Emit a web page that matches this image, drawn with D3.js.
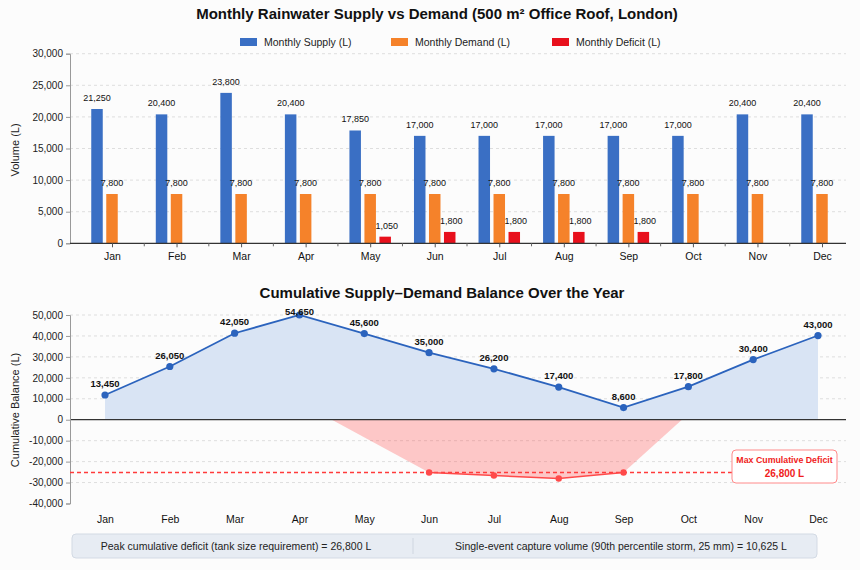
<!DOCTYPE html>
<html>
<head>
<meta charset="utf-8">
<script src="https://cdn.jsdelivr.net/npm/d3@7"></script>
<style>
  body { margin: 0; background: #fcfcfc; }
  text { font-family: "Liberation Sans", Arial, sans-serif; }
</style>
</head>
<body>
<div id="chart"></div>
<script>
var months = ["Jan", "Feb", "Mar", "Apr", "May", "Jun", "Jul", "Aug", "Sep", "Oct", "Nov", "Dec"];
var supply = [21250, 20400, 23800, 20400, 17850, 17000, 17000, 17000, 17000, 17000, 20400, 20400];
var demand = [7800, 7800, 7800, 7800, 7800, 7800, 7800, 7800, 7800, 7800, 7800, 7800];
var deficit = [0, 0, 0, 0, 1050, 1800, 1800, 1800, 1800, 0, 0, 0];
var seriesNames = ["Monthly Supply (L)", "Monthly Demand (L)", "Monthly Deficit (L)"];

// cumulative balance: where the points sit, and what their labels say
var cumPlotted = [11800, 25400, 41300, 50000, 41150, 32000, 24300, 15600, 5800, 15800, 28700, 40200];
var cumLabels = [13450, 26050, 42050, 54650, 45600, 35000, 26200, 17400, 8600, 17800, 30400, 43000];
// running deficit (month index, value); the 0 ends are where the shaded area meets zero
var deficitMonths = [5, 6, 7, 8];
var deficitValues = [-25200, -26650, -28050, -25200];
var deficitFillIdx = [3.5, 5, 6, 7, 8, 8.9];
var deficitFillVal = [0, -25200, -26650, -28050, -25200, 0];
var maxDeficitLine = -25200;
var maxDeficitText = "26,800 L";

var topTicks = [0, 5000, 10000, 15000, 20000, 25000, 30000];
var bottomTicks = [-40000, -30000, -20000, -10000, 0, 10000, 20000, 30000, 40000, 50000];
var footerNotes = [
    "Peak cumulative deficit (tank size requirement) = 26,800 L",
    "Single-event capture volume (90th percentile storm, 25 mm) = 10,625 L"
];

var width = 860;
var height = 570;
var colors = ["#3a6fc4", "#f5822a", "#e8101c"];
var fmt = d3.formatLocale({decimal: ".", thousands: ",", grouping: [3], currency: ["", ""], minus: "-"}).format(",");

var svg = d3.select("#chart").append("svg")
    .attr("width", width)
    .attr("height", height);

var axisLeft = 70, axisRight = 846;

// ---------- top chart ----------
var top0 = 53.7, top1 = 243.3;
var xTop = d3.scalePoint().domain(months).range([112, 822]);
var sub = d3.scaleBand().domain([0, 1, 2]).range([-20.75, 20.75]).paddingInner(0.233);
var yTop = d3.scaleLinear().domain([0, 30000]).range([top1, top0]);

svg.append("text")
    .attr("x", 437).attr("y", 19)
    .attr("text-anchor", "middle")
    .style("font-size", "15px").style("font-weight", "bold").style("fill", "#111")
    .text("Monthly Rainwater Supply vs Demand (500 m\u00b2 Office Roof, London)");

// legend
var legendX = [240, 391, 552];
seriesNames.forEach(function(name, i) {
    svg.append("rect")
        .attr("x", legendX[i]).attr("y", 38)
        .attr("width", 17).attr("height", 8)
        .attr("fill", colors[i]);
    svg.append("text")
        .attr("x", legendX[i] + 24).attr("y", 46)
        .style("font-size", "10.5px").style("fill", "#222")
        .text(name);
});

// grid
svg.append("g").selectAll("line")
    .data(topTicks.filter(function(d) { return d > 0; }))
    .enter().append("line")
        .attr("x1", axisLeft).attr("x2", axisRight)
        .attr("y1", function(d) { return yTop(d); })
        .attr("y2", function(d) { return yTop(d); })
        .attr("stroke", "#dedede").attr("stroke-dasharray", "3,3");

var yAxisTop = svg.append("g")
    .attr("transform", "translate(" + axisLeft + ",0)")
    .call(d3.axisLeft(yTop).tickValues(topTicks).tickFormat(fmt).tickSize(4));
yAxisTop.select(".domain").attr("stroke", "#999");
yAxisTop.selectAll(".tick line").attr("stroke", "#999");
yAxisTop.selectAll("text").style("font-size", "10px").style("fill", "#222")
    .style("font-family", "Liberation Sans, Arial, sans-serif");

svg.append("text")
    .attr("transform", "translate(19," + 150 + ") rotate(-90)")
    .attr("text-anchor", "middle")
    .style("font-size", "11px").style("fill", "#222")
    .text("Volume (L)");

var rows = months.map(function(m, i) {
    return {month: m, vals: [supply[i], demand[i], deficit[i]]};
});

var groups = svg.append("g").selectAll("g")
    .data(rows)
    .enter().append("g")
        .attr("transform", function(d) { return "translate(" + xTop(d.month) + ",0)"; });

groups.selectAll("rect")
    .data(function(d) { return d.vals.map(function(v, k) { return {k: k, v: v}; }); })
    .enter().append("rect")
        .filter(function(d) { return d.v > 0; })
        .attr("x", function(d) { return sub(d.k); })
        .attr("y", function(d) { return yTop(d.v); })
        .attr("width", sub.bandwidth())
        .attr("height", function(d) { return yTop(0) - yTop(d.v); })
        .attr("fill", function(d) { return colors[d.k]; });

groups.selectAll("text")
    .data(function(d) { return d.vals.map(function(v, k) { return {k: k, v: v}; }); })
    .enter().append("text")
        .filter(function(d) { return d.v > 0; })
        .attr("x", function(d) { return sub(d.k) + sub.bandwidth() / 2 + (d.k === 2 ? 1.5 : 0); })
        .attr("y", function(d) { return yTop(d.v) - 8; })
        .attr("text-anchor", "middle")
        .style("font-size", "9px").style("fill", "#111")
        .text(function(d) { return fmt(d.v); });

// x axis: ticks at month centres and small ones between months
var xAxisTop = svg.append("g").attr("transform", "translate(0," + top1 + ")");
xAxisTop.append("line")
    .attr("x1", axisLeft).attr("x2", axisRight)
    .attr("stroke", "#333").attr("stroke-width", 1.2);
var step = xTop.step();
xAxisTop.selectAll(".mid")
    .data(months.slice(1))
    .enter().append("line")
        .attr("x1", function(d) { return xTop(d) - step / 2; })
        .attr("x2", function(d) { return xTop(d) - step / 2; })
        .attr("y2", 3).attr("stroke", "#666");
xAxisTop.call(d3.axisBottom(xTop).tickSize(4).tickPadding(5));
xAxisTop.select(".domain").remove();
xAxisTop.selectAll(".tick line").attr("stroke", "#555");
xAxisTop.selectAll(".tick text").style("font-size", "10.5px").style("fill", "#111")
    .style("font-family", "Liberation Sans, Arial, sans-serif");

// ---------- bottom chart ----------
var xBot = d3.scaleLinear().domain([0, 11]).range([105, 818]);
var yBot = d3.scaleLinear().domain([-40000, 50000]).range([503.5, 315]);

svg.append("text")
    .attr("x", 442).attr("y", 298)
    .attr("text-anchor", "middle")
    .style("font-size", "15px").style("font-weight", "bold").style("fill", "#111")
    .text("Cumulative Supply\u2013Demand Balance Over the Year");

svg.append("g").selectAll("line")
    .data(bottomTicks.filter(function(d) { return d !== 0 && d > -40000; }))
    .enter().append("line")
        .attr("x1", axisLeft).attr("x2", axisRight)
        .attr("y1", function(d) { return yBot(d); })
        .attr("y2", function(d) { return yBot(d); })
        .attr("stroke", "#dedede").attr("stroke-dasharray", "3,3");

var idx = d3.range(months.length);

// positive balance area
svg.append("path")
    .datum(idx)
    .attr("fill", "#d9e4f4")
    .attr("d", d3.area()
        .x(function(i) { return xBot(i); })
        .y0(yBot(0))
        .y1(function(i) { return yBot(Math.max(0, cumPlotted[i])); }));

// deficit area
svg.append("path")
    .datum(d3.range(deficitFillIdx.length))
    .attr("fill", "#ff4d4d").attr("fill-opacity", 0.3)
    .attr("d", d3.area()
        .x(function(j) { return xBot(deficitFillIdx[j]); })
        .y0(yBot(0))
        .y1(function(j) { return yBot(deficitFillVal[j]); }));

// zero line
svg.append("line")
    .attr("x1", axisLeft).attr("x2", axisRight)
    .attr("y1", yBot(0)).attr("y2", yBot(0))
    .attr("stroke", "#333").attr("stroke-width", 1.3);

var yAxisBot = svg.append("g")
    .attr("transform", "translate(" + axisLeft + ",0)")
    .call(d3.axisLeft(yBot).tickValues(bottomTicks).tickFormat(fmt).tickSize(4));
yAxisBot.select(".domain").attr("stroke", "#999");
yAxisBot.selectAll(".tick line").attr("stroke", "#999");
yAxisBot.selectAll("text").style("font-size", "10px").style("fill", "#222")
    .style("font-family", "Liberation Sans, Arial, sans-serif");

svg.append("text")
    .attr("transform", "translate(19," + 410 + ") rotate(-90)")
    .attr("text-anchor", "middle")
    .style("font-size", "11px").style("fill", "#222")
    .text("Cumulative Balance (L)");

// max deficit dashed line
svg.append("line")
    .attr("x1", axisLeft).attr("x2", 732)
    .attr("y1", yBot(maxDeficitLine)).attr("y2", yBot(maxDeficitLine))
    .attr("stroke", "#ff3b3b").attr("stroke-width", 1.4).attr("stroke-dasharray", "4,3");

// cumulative line
svg.append("path")
    .datum(idx)
    .attr("fill", "none").attr("stroke", "#2b63bd").attr("stroke-width", 1.8)
    .attr("d", d3.line()
        .x(function(i) { return xBot(i); })
        .y(function(i) { return yBot(cumPlotted[i]); }));

svg.append("g").selectAll("circle")
    .data(idx)
    .enter().append("circle")
        .attr("cx", function(i) { return xBot(i); })
        .attr("cy", function(i) { return yBot(cumPlotted[i]); })
        .attr("r", 3.6)
        .attr("fill", "#2b63bd");

svg.append("g").selectAll("text")
    .data(idx)
    .enter().append("text")
        .attr("x", function(i) { return xBot(i); })
        .attr("y", function(i) { return Math.max(yBot(cumPlotted[i]) - 8, yBot(50000)); })
        .attr("text-anchor", "middle")
        .style("font-size", "9.5px").style("font-weight", "bold").style("fill", "#111")
        .text(function(i) { return fmt(cumLabels[i]); });

// deficit line
svg.append("path")
    .datum(d3.range(deficitMonths.length))
    .attr("fill", "none").attr("stroke", "#ff4a4a").attr("stroke-width", 1.5)
    .attr("d", d3.line()
        .x(function(j) { return xBot(deficitMonths[j]); })
        .y(function(j) { return yBot(deficitValues[j]); }));

svg.append("g").selectAll("circle")
    .data(d3.range(deficitMonths.length))
    .enter().append("circle")
        .attr("cx", function(j) { return xBot(deficitMonths[j]); })
        .attr("cy", function(j) { return yBot(deficitValues[j]); })
        .attr("r", 3.2)
        .attr("fill", "#ff4a4a");

// annotation box
var ann = svg.append("g");
ann.append("rect")
    .attr("x", 732).attr("y", 450).attr("width", 105).attr("height", 33)
    .attr("rx", 4)
    .attr("fill", "#ffffff").attr("stroke", "#ff8a8a").attr("stroke-width", 1);
ann.append("text")
    .attr("x", 784.5).attr("y", 463)
    .attr("text-anchor", "middle")
    .style("font-size", "8.8px").style("font-weight", "bold").style("fill", "#f01c1c")
    .text("Max Cumulative Deficit");
ann.append("text")
    .attr("x", 784.5).attr("y", 476.5)
    .attr("text-anchor", "middle")
    .style("font-size", "10px").style("font-weight", "bold").style("fill", "#f01c1c")
    .text(maxDeficitText);

// month labels
var xAxisBot = svg.append("g").attr("transform", "translate(0,503.5)")
    .call(d3.axisBottom(xBot).tickValues(idx).tickSize(0).tickPadding(12)
        .tickFormat(function(i) { return months[i]; }));
xAxisBot.select(".domain").remove();
xAxisBot.selectAll(".tick text").style("font-size", "10.5px").style("fill", "#111")
    .style("font-family", "Liberation Sans, Arial, sans-serif");

// footer
var foot = svg.append("g");
foot.append("rect")
    .attr("x", 72).attr("y", 534).attr("width", 745).attr("height", 24)
    .attr("rx", 4)
    .attr("fill", "#e7ecf3").attr("stroke", "#d3dae4");
foot.append("line")
    .attr("x1", 413).attr("x2", 413).attr("y1", 538).attr("y2", 554)
    .attr("stroke", "#cfd6e0");
foot.append("text")
    .attr("x", 236).attr("y", 549.5)
    .attr("text-anchor", "middle")
    .style("font-size", "10.5px").style("fill", "#222")
    .text(footerNotes[0]);
foot.append("text")
    .attr("x", 621).attr("y", 549.5)
    .attr("text-anchor", "middle")
    .style("font-size", "10.5px").style("fill", "#222")
    .text(footerNotes[1]);
</script>
</body>
</html>
